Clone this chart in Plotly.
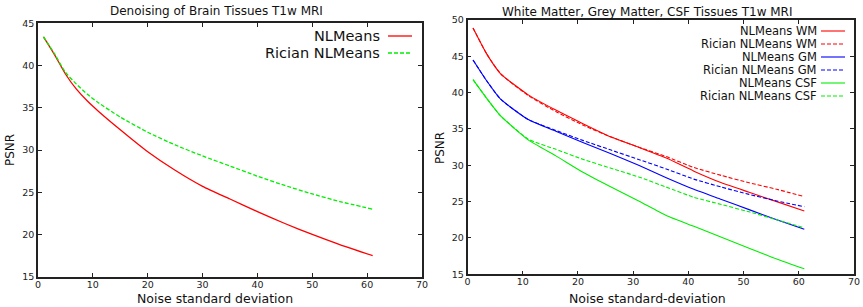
import plotly.graph_objects as go
from plotly.subplots import make_subplots

# ---- Left panel data ----
noise_left = [1, 3, 5, 7, 9, 11, 15, 20, 25, 30, 35, 40, 45, 50, 55, 61]
nlm_brain = [43.4, 41.3, 39.0, 37.2, 35.8, 34.6, 32.4, 29.8, 27.6, 25.7, 24.2, 22.7, 21.3, 20.0, 18.8, 17.5]
rician_brain = [43.4, 41.4, 39.2, 37.8, 36.6, 35.6, 33.9, 32.1, 30.6, 29.3, 28.1, 26.9, 25.8, 24.8, 23.9, 23.0]

# ---- Right panel data ----
noise_right = [1, 3.5, 6, 11, 16, 21, 26, 31, 36, 41, 46, 51, 56, 61]
nlm_wm = [48.9, 45.3, 42.6, 39.7, 37.6, 35.7, 33.9, 32.5, 31.0, 29.2, 27.6, 26.3, 25.0, 23.7]
rician_wm = [48.9, 45.3, 42.6, 39.6, 37.4, 35.5, 33.9, 32.5, 31.2, 29.7, 28.6, 27.6, 26.7, 25.7]
nlm_gm = [44.5, 41.6, 39.1, 36.3, 34.7, 33.1, 31.6, 30.0, 28.3, 26.7, 25.3, 23.9, 22.5, 21.2]
rician_gm = [44.5, 41.6, 39.1, 36.3, 34.8, 33.4, 32.1, 30.8, 29.5, 28.1, 27.0, 26.0, 25.1, 24.3]
nlm_csf = [41.8, 39.2, 36.8, 33.5, 31.3, 29.0, 27.0, 25.1, 23.1, 21.6, 20.1, 18.6, 17.1, 15.75]
rician_csf = [41.8, 39.2, 36.8, 33.6, 32.2, 30.8, 29.6, 28.4, 27.0, 25.6, 24.6, 23.6, 22.5, 21.4]

left_names = ["NLMeans", "Rician NLMeans"]
left_series = [nlm_brain, rician_brain]
left_colors = ["#ff0000", "#00ee00"]
left_dash = ["solid", "4px,2px"]

right_names = ["NLMeans WM", "Rician NLMeans WM", "NLMeans GM", "Rician NLMeans GM",
               "NLMeans CSF", "Rician NLMeans CSF"]
right_series = [nlm_wm, rician_wm, nlm_gm, rician_gm, nlm_csf, rician_csf]
right_colors = ["#ff0000", "#ff0000", "#0000ff", "#0000ff", "#00ee00", "#00ee00"]
right_dash = ["solid", "4px,2px", "solid", "4px,2px", "solid", "4px,2px"]

FONT = "DejaVu Sans"
W, H = 863, 307

fig = make_subplots(rows=1, cols=2)

for name, ys, c, d in zip(left_names, left_series, left_colors, left_dash):
    fig.add_trace(go.Scatter(x=noise_left, y=ys, mode="lines", name=name,
                             line=dict(color=c, width=1.3, dash=d, shape="spline", smoothing=0.6),
                             showlegend=False), row=1, col=1)
for name, ys, c, d in zip(right_names, right_series, right_colors, right_dash):
    fig.add_trace(go.Scatter(x=noise_right, y=ys, mode="lines", name=name,
                             line=dict(color=c, width=1.1, dash=d, shape="spline", smoothing=0.5),
                             showlegend=False), row=1, col=2)

def px_x(p):
    return p / W

def px_y(p):
    return 1 - p / H

axis_common = dict(showgrid=False, zeroline=False, showline=True, linecolor="#222",
                   linewidth=1.5, mirror="allticks", ticks="inside", ticklen=4,
                   tickcolor="#222", automargin=False,
                   tickfont=dict(family=FONT, size=9.5, color="#222"))

fig.update_layout(
    width=W, height=H, margin=dict(l=0, r=0, t=0, b=0, pad=0),
    paper_bgcolor="white", plot_bgcolor="white",
    font=dict(family=FONT, color="#111"),
    xaxis=dict(domain=[px_x(38), px_x(422)], range=[0, 70], dtick=10,
               ticklabelstandoff=-2, **axis_common),
    yaxis=dict(domain=[px_y(276.7), px_y(23.3)], range=[15, 45], dtick=5, **axis_common),
    xaxis2=dict(domain=[px_x(467.5), px_x(854)], range=[0, 70], dtick=10,
                ticklabelstandoff=-2, **axis_common),
    yaxis2=dict(domain=[px_y(274.3), px_y(20)], range=[15, 50], dtick=5, **axis_common),
)

def text_ann(text, x, y, size, xanchor="center", angle=0):
    return dict(text=text, x=px_x(x), y=px_y(y), xref="paper", yref="paper",
                xanchor=xanchor, yanchor="middle", textangle=angle, showarrow=False,
                font=dict(size=size, family=FONT, color="#111"))

ann = [
    text_ann("Denoising of Brain Tissues T1w MRI", 216, 11, 12),
    text_ann("White Matter, Grey Matter, CSF Tissues T1w MRI", 647, 12, 12),
    text_ann("Noise standard deviation", 215, 298, 12.5),
    text_ann("Noise standard-deviation", 647, 298, 12.5),
    text_ann("PSNR", 10, 150, 12, angle=-90),
    text_ann("PSNR", 440, 148, 12, angle=-90),
]

shapes = []
# left legend (gnuplot style: text right-aligned, sample on the right)
for i, (name, c, d) in enumerate(zip(left_names, left_colors, left_dash)):
    yy = 36 + i * 17
    ann.append(text_ann(name, 382, yy, 14.5, xanchor="right"))
    shapes.append(dict(type="line", xref="paper", yref="paper", x0=px_x(388), x1=px_x(412),
                       y0=px_y(yy), y1=px_y(yy), line=dict(color=c, width=1.3, dash=d)))
# right legend
for i, (name, c, d) in enumerate(zip(right_names, right_colors, right_dash)):
    yy = 31 + i * 13.0
    ann.append(text_ann(name, 818.5, yy, 11.5, xanchor="right"))
    shapes.append(dict(type="line", xref="paper", yref="paper", x0=px_x(821), x1=px_x(845),
                       y0=px_y(yy), y1=px_y(yy), line=dict(color=c, width=1.1, dash=d)))

fig.update_layout(annotations=ann, shapes=shapes)
fig.write_html("out.html", config={"displayModeBar": False},
               post_script="document.body.style.margin='0px';document.body.style.padding='0px';")
